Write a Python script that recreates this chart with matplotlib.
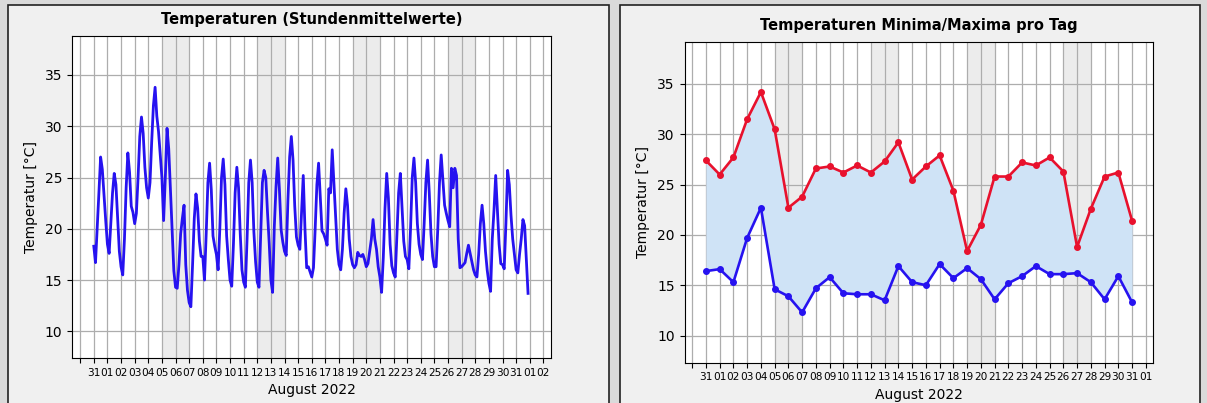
import numpy as np
import matplotlib
matplotlib.use("Agg")
import matplotlib.pyplot as plt
from matplotlib.patches import Rectangle

# ---------------- data ----------------
# day index: 0 = tick "01" (August); -1 = "31" (July)
tick_days_left = list(range(-2, 33))
tick_days_right = list(range(-2, 32))
tick_labels_left = [""] + ["31"] + [f"{d:02d}" for d in range(1, 32)] + ["01", "02"]
tick_labels_right = [""] + ["31"] + [f"{d:02d}" for d in range(1, 32)] + ["01"]

# weekend bands (start day, end day)
weekend_start = [4, 11, 18, 25]
weekend_end = [6, 13, 20, 27]

# hourly curve, read every 3 hours (h0,h3,...,h21) for days -1 .. 30
temp_3h = [
    18.3, 16.7, 20.0, 23.5, 27.0, 25.8, 23.3, 20.8,   # -1
    18.5, 17.6, 20.5, 23.5, 25.4, 24.3, 21.0, 17.8,   # 0
    16.3, 15.5, 19.0, 24.0, 27.4, 25.5, 22.2, 21.6,   # 1
    20.5, 21.5, 25.0, 29.0, 30.9, 29.3, 26.0, 24.0,   # 2
    23.0, 24.5, 28.5, 32.0, 33.8, 31.0, 29.5, 27.3,   # 3
    25.0, 20.8, 25.0, 29.8, 27.8, 23.8, 19.7, 15.9,   # 4
    14.3, 14.2, 16.5, 19.5, 21.0, 22.3, 16.5, 14.0,   # 5
    12.8, 12.4, 16.5, 21.0, 23.4, 22.0, 18.8, 17.3,   # 6
    17.3, 15.0, 19.5, 24.5, 26.4, 23.8, 19.3, 18.3,   # 7
    17.5, 16.0, 20.0, 25.0, 26.8, 24.3, 19.3, 17.0,   # 8
    15.0, 14.4, 18.5, 23.5, 26.0, 24.0, 19.5, 16.0,   # 9
    14.8, 14.3, 19.0, 24.5, 26.7, 24.5, 19.7, 16.8,   # 10
    14.8, 14.3, 19.5, 24.5, 25.7, 25.0, 21.6, 18.6,   # 11
    15.0, 13.8, 20.2, 24.1, 26.9, 23.8, 19.9, 18.7,   # 12
    17.8, 17.4, 22.8, 27.0, 29.0, 26.7, 22.2, 19.2,   # 13
    18.4, 18.0, 21.5, 25.2, 20.0, 16.2, 16.3, 15.8,   # 14
    15.3, 16.2, 20.0, 24.3, 26.4, 23.0, 19.8, 19.5,   # 15
    19.0, 18.4, 23.9, 23.5, 27.7, 24.5, 21.5, 18.0,   # 16
    16.5, 16.0, 18.0, 21.5, 23.9, 22.3, 19.0, 17.3,   # 17
    16.5, 16.2, 16.5, 17.7, 17.4, 17.3, 17.5, 17.0,   # 18
    16.3, 16.6, 17.8, 19.0, 20.9, 19.0, 18.0, 16.3,   # 19
    15.3, 13.8, 17.2, 22.0, 25.4, 23.0, 18.5, 16.4,   # 20
    15.7, 15.3, 19.5, 23.5, 25.4, 22.0, 18.8, 17.3,   # 21
    17.0, 16.1, 20.0, 25.0, 26.9, 24.5, 20.5, 18.5,   # 22
    17.5, 17.0, 20.5, 24.5, 26.7, 23.5, 19.5, 17.3,   # 23
    16.3, 16.3, 20.0, 24.5, 27.2, 24.8, 22.3, 21.5,   # 24
    20.8, 20.2, 25.9, 24.0, 25.9, 25.2, 19.0, 16.2,   # 25
    16.3, 16.5, 16.7, 17.6, 18.4, 17.6, 16.8, 16.0,   # 26
    15.5, 15.3, 17.5, 20.5, 22.3, 20.5, 17.8, 16.0,   # 27
    14.7, 13.9, 19.0, 21.8, 25.2, 21.8, 18.5, 16.6,   # 28
    16.5, 16.1, 20.5, 25.7, 24.3, 21.3, 19.0, 17.5,   # 29
    16.0, 15.7, 17.5, 19.0, 20.9, 20.3, 17.0, 13.7,   # 30
]
first_day = -1
step_hours = 3

# daily extremes, days -1 .. 30
t_max = [27.4, 26.0, 27.7, 31.5, 34.2, 30.5, 22.7, 23.8, 26.6, 26.8, 26.2,
         26.9, 26.2, 27.3, 29.2, 25.5, 26.8, 27.9, 24.4, 18.4, 21.0, 25.8,
         25.8, 27.2, 26.9, 27.7, 26.3, 18.8, 22.6, 25.8, 26.2, 21.4]
t_min = [16.4, 16.6, 15.3, 19.7, 22.7, 14.6, 13.9, 12.3, 14.7, 15.8, 14.2,
         14.1, 14.1, 13.5, 16.9, 15.3, 15.0, 17.1, 15.7, 16.7, 15.6, 13.6,
         15.2, 15.9, 16.9, 16.1, 16.1, 16.2, 15.3, 13.6, 15.9, 13.3]

# ---------------- figure ----------------
W, H = 1207, 403
fig = plt.figure(figsize=(W / 100, H / 100), dpi=100)
fig.patch.set_facecolor("#dadada")

for (x0, x1) in [(8, 609), (620, 1200)]:
    fig.patches.append(Rectangle((x0 / W, -0.05), (x1 - x0) / W, 1.05 - 5 / H,
                                 transform=fig.transFigure, facecolor="#f0f0f0",
                                 edgecolor="#222222", linewidth=1.2, zorder=-10))

axL = fig.add_axes([72 / W, 1 - 358 / H, 479 / W, 322 / H])
axR = fig.add_axes([684.6 / W, 1 - 362.7 / H, 468.8 / W, 321 / H])

x_h = first_day + np.arange(len(temp_3h)) * step_hours / 24.0
x_d = first_day + np.arange(len(t_max))

line_blue = "#2612f0"
red = "#e8112d"
band = "#ececec"

def style(ax, ticks, labels, title):
    for s, e in zip(weekend_start, weekend_end):
        ax.axvspan(s, e, facecolor=band, edgecolor="none", zorder=0)
    ax.set_xticks(ticks)
    ax.set_xticklabels(labels, fontsize=7.6)
    ax.set_yticks([10, 15, 20, 25, 30, 35])
    ax.tick_params(axis="y", labelsize=10)
    ax.grid(True, color="#adadad", linewidth=0.9, zorder=1)
    ax.set_axisbelow(True)
    ax.set_title(title, fontsize=10.5, fontweight="bold", pad=8.5)
    ax.set_xlabel("August 2022", fontsize=10, labelpad=4)
    ax.set_ylabel("Temperatur [°C]", fontsize=10, labelpad=5)
    for sp in ax.spines.values():
        sp.set_color("black")

# left
temp_arr = np.array(temp_3h)
axL.plot(x_h, temp_arr, color=line_blue, linewidth=2.0, zorder=3)
style(axL, tick_days_left, tick_labels_left, "Temperaturen (Stundenmittelwerte)")
axL.set_xlim(-2.6, 32.56)
axL.set_ylim(temp_arr.min() - 5, temp_arr.max() + 5)

# right
tmax = np.array(t_max)
tmin = np.array(t_min)
axR.fill_between(x_d, tmin, tmax, color="#cfe3f6", zorder=2, linewidth=0)
axR.plot(x_d, tmax, color=red, linewidth=1.9, marker="o", markersize=4, zorder=3)
axR.plot(x_d, tmin, color=line_blue, linewidth=1.9, marker="o", markersize=4, zorder=3)
style(axR, tick_days_right, tick_labels_right, "Temperaturen Minima/Maxima pro Tag")
axR.set_xlim(-2.55, 31.55)
axR.set_ylim(tmin.min() - 5, tmax.max() + 5)

fig.savefig("out.png", dpi=100, facecolor=fig.get_facecolor())
